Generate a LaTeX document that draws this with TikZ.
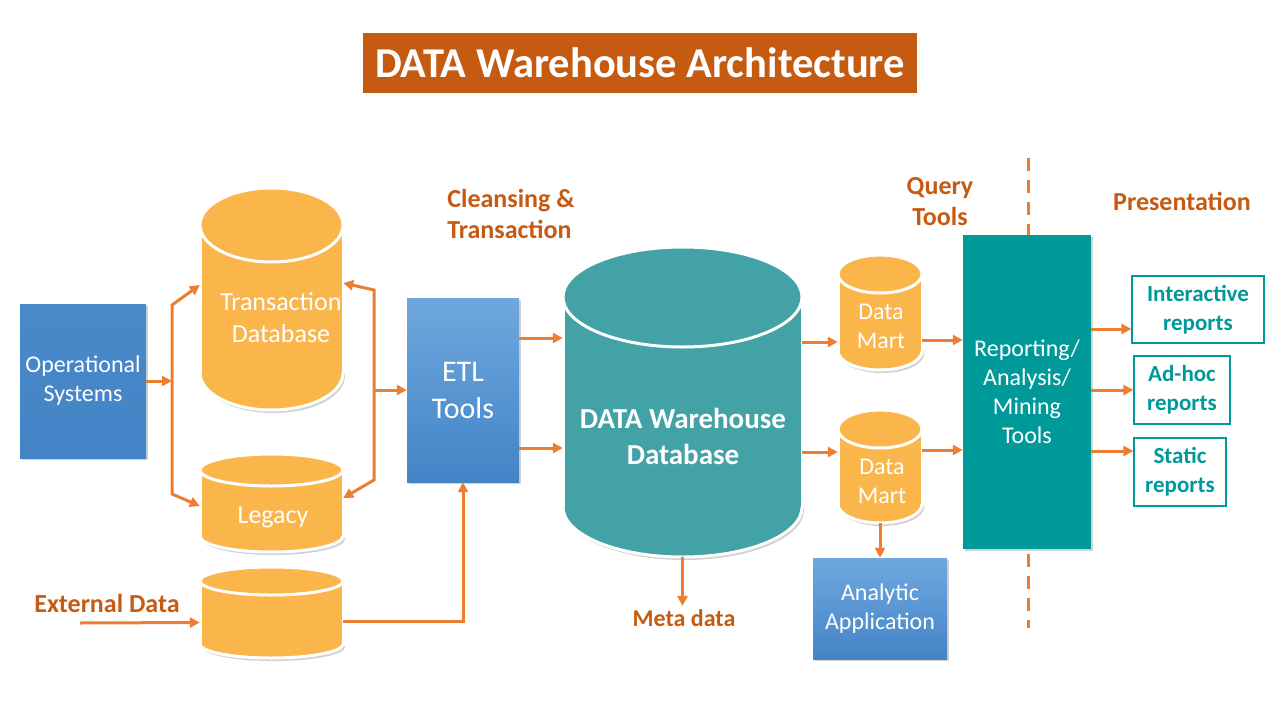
\documentclass[tikz,border=0pt]{standalone}
\usepackage{fontspec}
\setmainfont{Carlito}
\usetikzlibrary{positioning, arrows.meta, shadows}

\definecolor{titleorange}{HTML}{C55A11}
\definecolor{arroworange}{HTML}{ED7D31}
\definecolor{dbyellow}{HTML}{FAB54B}
\definecolor{dwteal}{HTML}{43A2A6}
\definecolor{toolteal}{HTML}{009999}
\definecolor{bluetop}{HTML}{6FA8DF}
\definecolor{bluebottom}{HTML}{4384C6}

% cylinder: [colour]{name}{centre x}{top}{bottom}{x radius}{y radius}
\newcommand{\dbcyl}[7][dbyellow]{%
  \fill[black, opacity=0.18] (#3+2,#5-#7+3) ellipse [x radius=#6pt, y radius=#7pt];
  \filldraw[fill=#1, draw=white, line width=3pt] (#3,#5-#7) ellipse [x radius=#6pt, y radius=#7pt];
  \fill[#1] (#3-#6,#4+#7) rectangle (#3+#6,#5-#7);
  \draw[white, line width=3pt] (#3-#6,#4+#7) -- (#3-#6,#5-#7) (#3+#6,#4+#7) -- (#3+#6,#5-#7);
  \filldraw[fill=#1, draw=white, line width=3pt] (#3,#4+#7) ellipse [x radius=#6pt, y radius=#7pt];
  \node[inner sep=0pt, minimum width={2*#6}, minimum height={#5-#4}] (#2) at (#3,{(#4+#5)/2}) {};
}

\begin{document}
\begin{tikzpicture}[x=1pt, y=-1pt,
    titlebox/.style={rectangle, fill=titleorange, text=white, font=\fontsize{42.5}{50}\selectfont\bfseries, minimum width=554pt, minimum height=60pt},
    bluebox/.style={rectangle, top color=bluetop, bottom color=bluebottom, text=white, align=center, font=\fontsize{24}{29}\selectfont, drop shadow={shadow xshift=2pt, shadow yshift=-2pt, opacity=0.35}},
    dbtext/.style={text=white, align=center, font=\fontsize{26}{32}\selectfont},
    heading/.style={text=titleorange, align=center, font=\fontsize{26}{31}\selectfont\bfseries},
    reportbox/.style={rectangle, draw=toolteal, line width=1.2pt, fill=white, text=toolteal, align=center, font=\fontsize{23}{29}\selectfont\bfseries},
    flow/.style={draw=arroworange, line width=3pt, -{Triangle[length=10pt,width=10pt]}}
]
\useasboundingbox (0,0) rectangle (1280,720);

\node[titlebox] (title) at (640,63) {DATA Warehouse Architecture};

\node[heading, align=left] (cleansingLabel) at (511,214) {Cleansing \&\\Transaction};
\node[heading] (queryLabel) at (940,202) {Query\\Tools};
\node[heading] (presentationLabel) at (1182,201) {Presentation};
\node[heading] (externalLabel) at (107,603) {External Data};
\node[heading, font=\fontsize{24}{29}\selectfont\bfseries] (metaLabel) at (684,618) {Meta data};

\node[bluebox, minimum width=126pt, minimum height=154pt, top color=bluebottom!85!bluetop, bottom color=bluebottom] (opSys) at (83,381) {Operational\\Systems};

\dbcyl{transDB}{271.5}{188}{410}{71.5}{37}
\node[dbtext] (transText) at (281,318) {Transaction\\Database};
\dbcyl{legacyDB}{271.5}{454}{552}{71.5}{16}
\node[dbtext] (legacyText) at (273,517) {Legacy};
\dbcyl{extDB}{271.5}{567}{658}{71.5}{14}

\node[bluebox, minimum width=112pt, minimum height=184pt, font=\fontsize{30}{37}\selectfont] (etl) at (463,390) {ETL\\Tools};

\dbcyl[dwteal]{dw}{682.5}{247}{557}{119.5}{50}
\node[dbtext, font=\fontsize{29}{36}\selectfont\bfseries] (dwText) at (683,436) {DATA Warehouse\\Database};

\dbcyl{mart1}{880}{255}{370}{42}{19}
\node[dbtext, font=\fontsize{24}{29}\selectfont] (mart1Text) at (881,326) {Data\\Mart};
\dbcyl{mart2}{880}{410}{523}{42}{19}
\node[dbtext, font=\fontsize{24}{29}\selectfont] (mart2Text) at (882,481) {Data\\Mart};

\node[bluebox, minimum width=134pt, minimum height=101pt] (analytic) at (880,608.5) {Analytic\\Application};

\coordinate (dashTop) at (1028,158);
\coordinate (dashBottom) at (1028,628);
\draw[arroworange, line width=3pt, dash pattern=on 13pt off 9pt] (dashTop) -- (dashBottom);

\node[rectangle, fill=toolteal, text=white, align=center, font=\fontsize{24}{29}\selectfont, minimum width=128pt, minimum height=314pt, drop shadow={shadow xshift=2pt, shadow yshift=-2pt, opacity=0.35}] (report) at (1027,392) {Reporting/\\Analysis/\\Mining\\Tools};

\node[reportbox, minimum width=132pt, minimum height=67pt] (interactive) at (1198,309.5) {Interactive\\reports};
\node[reportbox, minimum width=96pt, minimum height=68pt] (adhoc) at (1182,390) {Ad-hoc\\reports};
\node[reportbox, minimum width=92pt, minimum height=68pt] (static) at (1180,472) {Static\\reports};

\coordinate (splitL) at (172,381);
\coordinate (splitR) at (374,390);
\coordinate (extStart) at (80,623);

\draw[flow] (opSys.east) -- (splitL);
\draw[flow] (splitL) -- ++(0,-76) -- ([yshift=14pt]transDB.west);
\draw[flow] (splitL) -- ++(0,113) -- ([yshift=-3pt]legacyDB.west);
\draw[flow] (splitR) -- (etl.west);
\draw[flow] (splitR) -- ++(0,-100) -- ([yshift=16pt]transDB.east);
\draw[flow] (splitR) -- ++(0,90) -- ([yshift=5pt]legacyDB.east);
\draw[flow] (extStart) -- ([yshift=-10pt]extDB.west);
\draw[flow] ([yshift=-9pt]extDB.east) -| (etl.south);

\draw[flow] ([yshift=52pt]etl.east) -- ([yshift=64pt]dw.west);
\draw[flow] ([yshift=-58pt]etl.east) -- ([yshift=-46pt]dw.west);
\draw[flow] ([yshift=60pt]dw.east) -- ([yshift=-29.5pt]mart1.west);
\draw[flow] ([yshift=-50pt]dw.east) -- ([yshift=14.5pt]mart2.west);
\draw[flow] (dw.south) -- (dw.south |- metaLabel.north);
\draw[flow] ([yshift=-27.5pt]mart1.east) -- ([yshift=52pt]report.west);
\draw[flow] ([yshift=16.5pt]mart2.east) -- ([yshift=-58pt]report.west);
\draw[flow] (mart2.south) -- (mart2.south |- analytic.north);

\draw[flow] ([yshift=63pt]report.east) -- ([yshift=-19.5pt]interactive.west);
\draw[flow] (report.east |- adhoc.west) -- (adhoc.west);
\draw[flow] ([yshift=-59pt]report.east) -- ([yshift=21pt]static.west);

\end{tikzpicture}
\end{document}
